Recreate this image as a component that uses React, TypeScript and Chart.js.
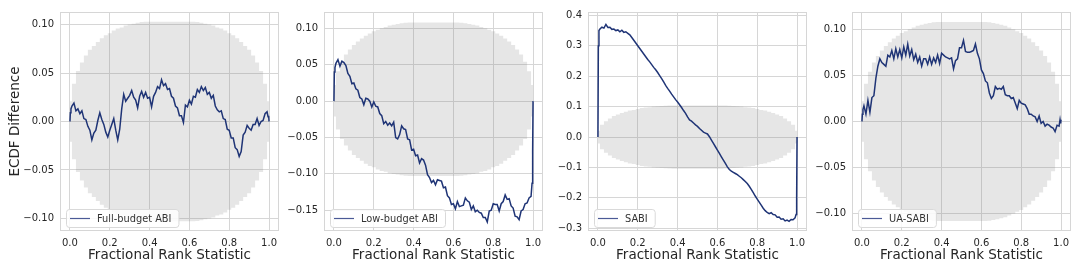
import React, { useEffect, useRef } from "react";
import { Chart, registerables } from "chart.js";
Chart.register(...registerables);

const FONT = "DejaVu Sans";
const LINE_COLOR = "#1f3476";
const LEGEND_LINE = "#4b5a96";
const GRID = "#d6d6d6";
const BAND = "rgba(128,128,128,0.2)";
const TEXT = "#262626";

const fracRank = [
  0, 0.002, 0.005,
  0.01, 0.02, 0.03, 0.04, 0.05, 0.06, 0.07, 0.08, 0.09,
  0.1, 0.11, 0.12, 0.13, 0.14, 0.15, 0.16, 0.17, 0.18, 0.19,
  0.2, 0.21, 0.22, 0.23, 0.24, 0.25, 0.26, 0.27, 0.28, 0.29,
  0.3, 0.31, 0.32, 0.33, 0.34, 0.35, 0.36, 0.37, 0.38, 0.39,
  0.4, 0.41, 0.42, 0.43, 0.44, 0.45, 0.46, 0.47, 0.48, 0.49,
  0.5, 0.51, 0.52, 0.53, 0.54, 0.55, 0.56, 0.57, 0.58, 0.59,
  0.6, 0.61, 0.62, 0.63, 0.64, 0.65, 0.66, 0.67, 0.68, 0.69,
  0.7, 0.71, 0.72, 0.73, 0.74, 0.75, 0.76, 0.77, 0.78, 0.79,
  0.8, 0.81, 0.82, 0.83, 0.84, 0.85, 0.86, 0.87, 0.88, 0.89,
  0.9, 0.91, 0.92, 0.93, 0.94, 0.95, 0.96, 0.97, 0.98, 0.99,
  0.995, 0.998, 1,
];

const fullBudgetABI = [
  0, 0.009, 0.013,
  0.016, 0.019, 0.011, 0.013, 0.008, 0.011, 0.003, 0.002, -0.005,
  -0.009, -0.019, -0.012, -0.009, 0.001, 0.009, 0.002, -0.003, -0.011, -0.016,
  -0.009, -0.003, 0.003, -0.009, -0.019, -0.008, 0.013, 0.028, 0.021, 0.024,
  0.027, 0.032, 0.025, 0.022, 0.014, 0.026, 0.031, 0.025, 0.03, 0.024,
  0.025, 0.015, 0.026, 0.03, 0.036, 0.034, 0.043, 0.037, 0.039, 0.033,
  0.034, 0.026, 0.024, 0.016, 0.014, 0.006, 0.006, -0.001, 0.017, 0.015,
  0.022, 0.018, 0.026, 0.025, 0.033, 0.03, 0.036, 0.032, 0.035, 0.028,
  0.03, 0.024, 0.027, 0.016, 0.012, 0.01, 0.011, 0.003, 0.002, -0.008,
  -0.009, -0.017, -0.017, -0.027, -0.029, -0.036, -0.031, -0.014, -0.011, -0.004,
  -0.007, -0.009, -0.003, -0.003, 0.003, -0.004, 0.0, 0.001, 0.008, 0.01,
  0.005, 0.006, 0.0,
];

const lowBudgetABI = [
  0, 0.04, 0.046,
  0.052, 0.057, 0.048, 0.055, 0.053, 0.049, 0.038, 0.034, 0.024,
  0.025, 0.017, 0.015, 0.005, 0.003, -0.005, 0.004, 0.003, 0.0, -0.008,
  -0.001, -0.007, -0.008, -0.017, -0.02, -0.031, -0.028, -0.033, -0.03, -0.034,
  -0.029, -0.05, -0.052, -0.046, -0.034, -0.038, -0.039, -0.052, -0.053, -0.067,
  -0.066, -0.075, -0.074, -0.085, -0.079, -0.081, -0.088, -0.101, -0.105, -0.112,
  -0.109, -0.115, -0.108, -0.109, -0.11, -0.119, -0.118, -0.13, -0.133, -0.142,
  -0.141, -0.148, -0.138, -0.145, -0.144, -0.143, -0.133, -0.137, -0.139, -0.149,
  -0.144, -0.152, -0.15, -0.153, -0.154, -0.16, -0.16, -0.166, -0.151, -0.15,
  -0.141, -0.142, -0.142, -0.151, -0.141, -0.138, -0.129, -0.135, -0.134, -0.144,
  -0.147, -0.158, -0.159, -0.163, -0.151, -0.149, -0.141, -0.14, -0.133, -0.131,
  -0.113, -0.07, 0.0,
];

const sabi = [
  0, 0.3, 0.35,
  0.355, 0.361, 0.358, 0.37, 0.36, 0.361, 0.354, 0.355, 0.35,
  0.352, 0.346, 0.351, 0.344, 0.346, 0.341, 0.336, 0.327, 0.318, 0.309,
  0.3, 0.291, 0.282, 0.273, 0.264, 0.255, 0.247, 0.238, 0.229, 0.221,
  0.212, 0.202, 0.192, 0.181, 0.17, 0.16, 0.151, 0.141, 0.132, 0.123,
  0.115, 0.106, 0.097, 0.087, 0.078, 0.066, 0.056, 0.052, 0.046, 0.04,
  0.035, 0.028, 0.022, 0.016, 0.013, 0.01, 0.001, -0.01, -0.021, -0.032,
  -0.043, -0.054, -0.065, -0.076, -0.087, -0.098, -0.107, -0.112, -0.116, -0.12,
  -0.124, -0.129, -0.134, -0.14, -0.146, -0.153, -0.162, -0.172, -0.183, -0.194,
  -0.204, -0.214, -0.224, -0.234, -0.242, -0.248, -0.252, -0.249, -0.255, -0.256,
  -0.264, -0.263, -0.27, -0.269, -0.276, -0.273, -0.277, -0.271, -0.272, -0.266,
  -0.255, -0.2, 0.0,
];

const uaSabi = [
  0, 0.008, 0.013,
  0.017, 0.008, 0.023, 0.01, 0.026, 0.028, 0.047, 0.06, 0.068,
  0.064, 0.062, 0.06, 0.072, 0.07, 0.077, 0.068, 0.079, 0.07, 0.078,
  0.069, 0.081, 0.072, 0.084, 0.071, 0.078, 0.067, 0.073, 0.064, 0.07,
  0.06, 0.068, 0.068, 0.062, 0.07, 0.062, 0.069, 0.064, 0.072, 0.063,
  0.074, 0.072, 0.07, 0.069, 0.068, 0.069, 0.057, 0.066, 0.068, 0.08,
  0.08, 0.088, 0.076, 0.075, 0.075, 0.076, 0.077, 0.084, 0.074, 0.068,
  0.056, 0.052, 0.044, 0.042, 0.031, 0.025, 0.028, 0.038, 0.035, 0.036,
  0.035, 0.038, 0.029, 0.028, 0.028, 0.025, 0.026, 0.02, 0.014, 0.023,
  0.02, 0.019, 0.018, 0.014, 0.008, 0.008, 0.006, 0.005, 0.0, 0.006,
  -0.002, 0.0, -0.005, -0.003, -0.004, -0.006, -0.007, -0.011, -0.004, -0.005,
  0.002, -0.002, 0.002,
];

const bandRank = [
  0, 0.02, 0.04, 0.06, 0.08, 0.1, 0.12, 0.14, 0.16, 0.18,
  0.2, 0.22, 0.24, 0.26, 0.28, 0.3, 0.32, 0.34, 0.36, 0.38,
  0.4, 0.42, 0.44, 0.46, 0.48, 0.5, 0.52, 0.54, 0.56, 0.58,
  0.6, 0.62, 0.64, 0.66, 0.68, 0.7, 0.72, 0.74, 0.76, 0.78,
  0.8, 0.82, 0.84, 0.86, 0.88, 0.9, 0.92, 0.94, 0.96, 0.98, 1,
];

const bandUpperA = [
  0.021, 0.039, 0.052, 0.061, 0.068, 0.074, 0.078, 0.082, 0.086, 0.089,
  0.091, 0.094, 0.096, 0.097, 0.099, 0.1, 0.101, 0.102, 0.1026,
  0.103, 0.103, 0.103, 0.103, 0.103, 0.103, 0.103, 0.103, 0.103, 0.103, 0.103, 0.103, 0.103,
  0.1026, 0.102, 0.101, 0.1, 0.099, 0.097, 0.096, 0.094, 0.091,
  0.089, 0.086, 0.082, 0.078, 0.074, 0.068, 0.061, 0.052, 0.039, 0.021,
];
const bandLowerA = [
  -0.021, -0.039, -0.052, -0.061, -0.068, -0.074, -0.078, -0.082, -0.086, -0.089,
  -0.091, -0.094, -0.096, -0.097, -0.099, -0.1, -0.101, -0.102, -0.1026,
  -0.103, -0.103, -0.103, -0.103, -0.103, -0.103, -0.103, -0.103, -0.103, -0.103, -0.103, -0.103, -0.103,
  -0.1026, -0.102, -0.101, -0.1, -0.099, -0.097, -0.096, -0.094, -0.091,
  -0.089, -0.086, -0.082, -0.078, -0.074, -0.068, -0.061, -0.052, -0.039, -0.021,
];
const bandUpperC = [
  0.021, 0.04, 0.052, 0.061, 0.069, 0.074, 0.079, 0.083, 0.087, 0.089,
  0.092, 0.095, 0.097, 0.098, 0.1, 0.101, 0.102, 0.103, 0.1036,
  0.104, 0.104, 0.104, 0.104, 0.104, 0.104, 0.104, 0.104, 0.104, 0.104, 0.104, 0.104, 0.104,
  0.1036, 0.103, 0.102, 0.101, 0.1, 0.098, 0.097, 0.095, 0.092,
  0.089, 0.087, 0.083, 0.079, 0.074, 0.069, 0.061, 0.052, 0.04, 0.021,
];
const bandLowerC = [
  -0.021, -0.04, -0.052, -0.061, -0.069, -0.074, -0.079, -0.083, -0.087, -0.089,
  -0.092, -0.095, -0.097, -0.098, -0.1, -0.101, -0.102, -0.103, -0.1036,
  -0.104, -0.104, -0.104, -0.104, -0.104, -0.104, -0.104, -0.104, -0.104, -0.104, -0.104, -0.104, -0.104,
  -0.1036, -0.103, -0.102, -0.101, -0.1, -0.098, -0.097, -0.095, -0.092,
  -0.089, -0.087, -0.083, -0.079, -0.074, -0.069, -0.061, -0.052, -0.04, -0.021,
];
const bandUpperD = [
  0.022, 0.041, 0.054, 0.064, 0.071, 0.077, 0.082, 0.086, 0.09, 0.093,
  0.096, 0.098, 0.1, 0.102, 0.104, 0.105, 0.106, 0.107, 0.1076,
  0.108, 0.108, 0.108, 0.108, 0.108, 0.108, 0.108, 0.108, 0.108, 0.108, 0.108, 0.108, 0.108,
  0.1076, 0.107, 0.106, 0.105, 0.104, 0.102, 0.1, 0.098, 0.096,
  0.093, 0.09, 0.086, 0.082, 0.077, 0.071, 0.064, 0.054, 0.041, 0.022,
];
const bandLowerD = [
  -0.022, -0.041, -0.054, -0.064, -0.071, -0.077, -0.082, -0.086, -0.09, -0.093,
  -0.096, -0.098, -0.1, -0.102, -0.104, -0.105, -0.106, -0.107, -0.1076,
  -0.108, -0.108, -0.108, -0.108, -0.108, -0.108, -0.108, -0.108, -0.108, -0.108, -0.108, -0.108, -0.108,
  -0.1076, -0.107, -0.106, -0.105, -0.104, -0.102, -0.1, -0.098, -0.096,
  -0.093, -0.09, -0.086, -0.082, -0.077, -0.071, -0.064, -0.054, -0.041, -0.022,
];

const xTicks = [0, 0.2, 0.4, 0.6, 0.8, 1.0];
const yTicksSmall = [-0.1, -0.05, 0, 0.05, 0.1];
const yTicksLow = [-0.15, -0.1, -0.05, 0, 0.05, 0.1];
const yTicksSabi = [-0.3, -0.2, -0.1, 0, 0.1, 0.2, 0.3, 0.4];

const seriesLabels = ["Full-budget ABI", "Low-budget ABI", "SABI", "UA-SABI"];
const xTitle = "Fractional Rank Statistic";
const yTitle = "ECDF Difference";

const panels = [
  { label: seriesLabels[0], values: fullBudgetABI, up: bandUpperA, lo: bandLowerA, ticks: yTicksSmall, dec: 2, min: -0.113, max: 0.113 },
  { label: seriesLabels[1], values: lowBudgetABI, up: bandUpperD, lo: bandLowerA, ticks: yTicksLow, dec: 2, min: -0.1785, max: 0.1225 },
  { label: seriesLabels[2], values: sabi, up: bandUpperC, lo: bandLowerC, ticks: yTicksSabi, dec: 1, min: -0.309, max: 0.411 },
  { label: seriesLabels[3], values: uaSabi, up: bandUpperD, lo: bandLowerD, ticks: yTicksSmall, dec: 2, min: -0.1188, max: 0.1188 },
];

const fmt = (v: number, dec: number) => {
  const s = Math.abs(v).toFixed(dec);
  return v < -1e-9 ? "\u2212" + s : s;
};

function Panel({ idx }: { idx: number }) {
  const ref = useRef<HTMLCanvasElement | null>(null);
  useEffect(() => {
    const p = panels[idx];
    const canvas = ref.current!;
    const borderPlugin = {
      id: "boxBorder",
      afterDatasetsDraw(chart: any) {
        const { ctx, chartArea: a } = chart;
        ctx.save();
        ctx.strokeStyle = GRID;
        ctx.lineWidth = 1;
        ctx.strokeRect(Math.round(a.left) + 0.5, Math.round(a.top) + 0.5, Math.round(a.right - a.left) - 1, Math.round(a.bottom - a.top) - 1);
        ctx.restore();
      },
    };
    const legendPlugin = {
      id: "insideLegend",
      afterDraw(chart: any) {
        const { ctx, chartArea: a } = chart;
        ctx.save();
        ctx.font = `9.8px "${FONT}"`;
        const tw = ctx.measureText(p.label).width;
        const x0 = Math.round(a.left) + 6;
        const y0 = Math.round(a.bottom) - 22;
        const w = 4 + 20 + 7 + tw + 7;
        const h = 18;
        ctx.beginPath();
        (ctx as any).roundRect(x0 + 0.5, y0 + 0.5, w, h, 3);
        ctx.fillStyle = "rgba(255,255,255,0.85)";
        ctx.fill();
        ctx.strokeStyle = "#d9d9d9";
        ctx.lineWidth = 1;
        ctx.stroke();
        ctx.beginPath();
        ctx.moveTo(x0 + 4, y0 + 9.5);
        ctx.lineTo(x0 + 24, y0 + 9.5);
        ctx.strokeStyle = LEGEND_LINE;
        ctx.lineWidth = 1.2;
        ctx.stroke();
        ctx.fillStyle = "#333333";
        ctx.textBaseline = "middle";
        ctx.textAlign = "left";
        ctx.fillText(p.label, x0 + 31, y0 + 10);
        ctx.restore();
      },
    };
    const chart = new Chart(canvas, {
      type: "line",
      data: {
        datasets: [
          {
            label: p.label,
            data: fracRank.map((x, i) => ({ x, y: p.values[i] })),
            borderColor: LINE_COLOR,
            borderWidth: 1.5,
            pointRadius: 0,
            fill: false,
            tension: 0,
          },
          {
            label: "band-upper",
            data: bandRank.map((x, i) => ({ x, y: p.up[i] })),
            borderColor: "transparent",
            borderWidth: 0,
            pointRadius: 0,
            fill: false,
            stepped: "middle",
          },
          {
            label: "band-lower",
            data: bandRank.map((x, i) => ({ x, y: p.lo[i] })),
            borderColor: "transparent",
            borderWidth: 0,
            pointRadius: 0,
            backgroundColor: BAND,
            fill: "-1",
            stepped: "middle",
          },
        ],
      },
      options: {
        animation: false,
        responsive: false,
        events: [],
        layout: { padding: { left: 0, right: 6, top: 9, bottom: 0 } },
        plugins: { legend: { display: false }, tooltip: { enabled: false } },
        scales: {
          x: {
            type: "linear",
            min: -0.05,
            max: 1.05,
            afterBuildTicks: (s: any) => {
              s.ticks = xTicks.map((v) => ({ value: v }));
            },
            afterFit: (s: any) => {
              s.height = 39;
            },
            grid: { color: GRID, lineWidth: 1, drawTicks: false },
            border: { display: false },
            ticks: {
              padding: 6,
              color: TEXT,
              font: { family: FONT, size: 10 },
              maxRotation: 0,
              callback: (v: any) => fmt(Number(v), 1),
            },
            title: {
              display: true,
              text: xTitle,
              color: TEXT,
              font: { family: FONT, size: 13.5 },
              padding: { top: 0, bottom: 6 },
            },
          },
          y: {
            type: "linear",
            min: p.min,
            max: p.max,
            afterBuildTicks: (s: any) => {
              s.ticks = p.ticks.map((v) => ({ value: v }));
            },
            afterFit: (s: any) => {
              s.width = 60;
            },
            grid: { color: GRID, lineWidth: 1, drawTicks: false },
            border: { display: false },
            ticks: {
              padding: 6,
              color: TEXT,
              font: { family: FONT, size: 10 },
              callback: (v: any) => fmt(Number(v), p.dec),
            },
            title: {
              display: idx === 0,
              text: yTitle,
              color: TEXT,
              font: { family: FONT, size: 13.5 },
              padding: { top: 7, bottom: 0 },
            },
          },
        },
      },
      plugins: [borderPlugin, legendPlugin],
    } as any);
    return () => chart.destroy();
  }, [idx]);
  return (
    <canvas
      ref={ref}
      width={285}
      height={270}
      style={{ position: "absolute", left: idx * 264, top: 0, width: 285, height: 270 }}
    />
  );
}

export default function App() {
  return (
    <div style={{ position: "absolute", left: 0, top: 0, width: 1080, height: 270, background: "#ffffff" }}>
      {panels.map((_, i) => (
        <Panel key={i} idx={i} />
      ))}
    </div>
  );
}
